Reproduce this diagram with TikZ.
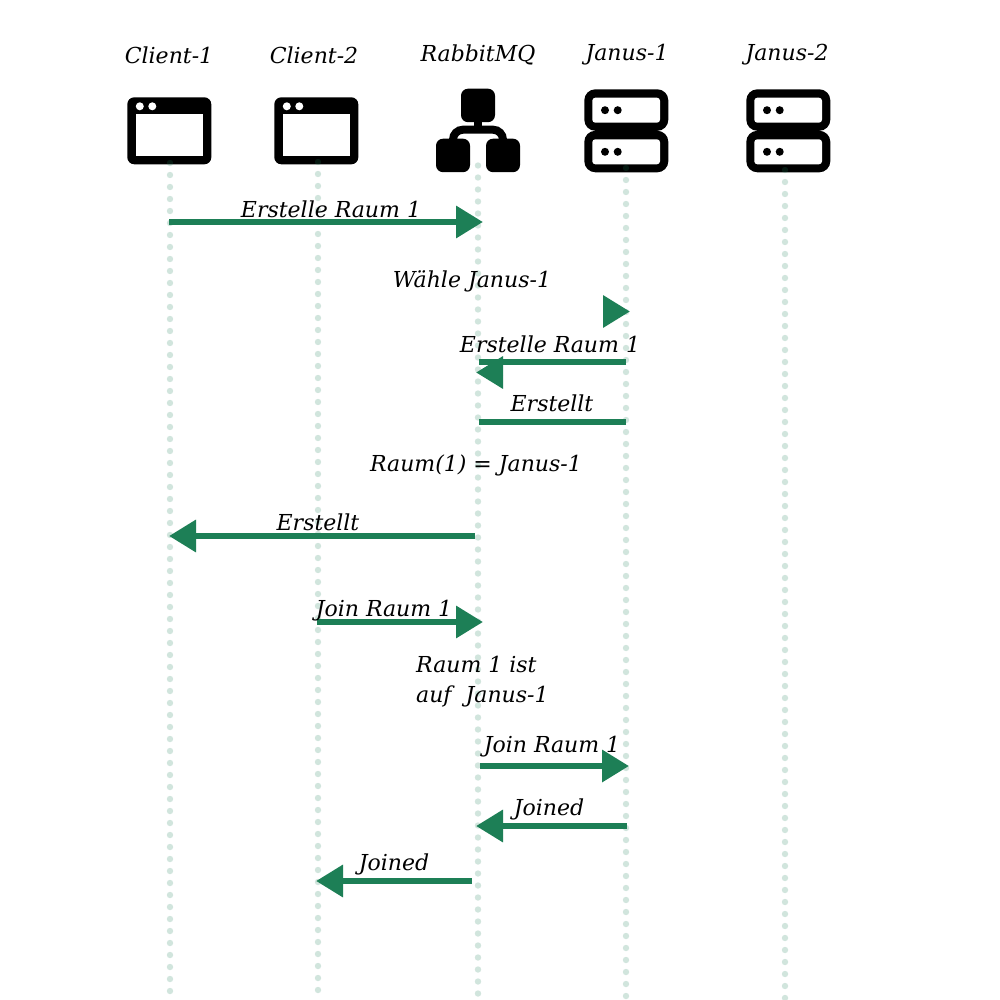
\documentclass[tikz,border=0pt]{standalone}
\usepackage{fontspec}
\setmainfont{DejaVu Serif}
\usetikzlibrary{arrows.meta}
\definecolor{msggreen}{HTML}{1D7F56}

\begin{document}
\begin{tikzpicture}[x=1pt,y=-1pt]
    \tikzstyle{label}=[font=\fontsize{22}{30}\selectfont\itshape,inner sep=0pt,text=black]
    \tikzstyle{msg}=[draw=msggreen,line width=6.4pt,-{Triangle[length=27pt,width=31pt]}]
    \tikzstyle{plain msg}=[draw=msggreen,line width=6.4pt]
    \tikzstyle{lifeline}=[draw=msggreen,draw opacity=0.2,line width=6.4pt,line cap=round,dash pattern=on 0pt off 12pt]
    \tikzset{
      browser/.pic={
        \fill[black,rounded corners=7pt] (0,0) rectangle (84,67);
        \fill[white] (8.3,17) rectangle (75.3,59);
        \fill[white] (12.5,9) circle (4) (25,9) circle (4);
      },
      broker/.pic={
        \fill[black,rounded corners=7pt] (25,0) rectangle (59,33.5);
        \fill[black,rounded corners=7pt] (0,50) rectangle (34,83.5);
        \fill[black,rounded corners=7pt] (50,50) rectangle (84,83.5);
        \draw[black,line width=8pt] (42,30) -- (42,41);
        \draw[black,line width=8pt] (17,52) -- (17,51) arc (180:270:10) -- (57,41) arc (270:360:10) -- (67,52);
      },
      server/.pic={
        \fill[black,rounded corners=11pt] (0,0) rectangle (84,41.5);
        \fill[black,rounded corners=11pt] (0,41.5) rectangle (84,83);
        \fill[white,rounded corners=3pt] (8,8.4) rectangle (75.7,33.4);
        \fill[white,rounded corners=3pt] (8,50) rectangle (75.7,75);
        \fill[black] (20.7,20.9) circle (4) (33.4,20.9) circle (4);
        \fill[black] (20.7,62.5) circle (4) (33.4,62.5) circle (4);
      }
    }
    \useasboundingbox (0,0) rectangle (1000,1000);
    \fill[white] (0,0) rectangle (1000,1000);

    % icons
    \pic at (127.3,97.3) {browser};
    \pic at (274.3,97.3) {browser};
    \pic at (436,88.7) {broker};
    \pic at (584.3,89.3) {server};
    \pic at (746.3,89.3) {server};

    % names
    \node[label] (client1) at (169,55) {Client-1};
    \node[label] (client2) at (314,55) {Client-2};
    \node[label] (rabbit) at (478,55) {RabbitMQ};
    \node[label] (janus1) at (627,55) {Janus-1};
    \node[label] (janus2) at (787,55) {Janus-2};

    % lifelines
    \coordinate (c1top) at (170,163);
    \coordinate (c1end) at (170,994);
    \coordinate (c2top) at (318,162);
    \coordinate (c2end) at (318,994);
    \coordinate (rtop) at (478,165.5);
    \coordinate (rend) at (478,994);
    \coordinate (j1top) at (626,168);
    \coordinate (j1end) at (626,998);
    \coordinate (j2top) at (785,170);
    \coordinate (j2end) at (785,998);
    \draw[lifeline] (c1top) -- (c1end);
    \draw[lifeline] (c2top) -- (c2end);
    \draw[lifeline] (rtop) -- (rend);
    \draw[lifeline] (j1top) -- (j1end);
    \draw[lifeline] (j2top) -- (j2end);

    % messages
    \coordinate (m1a) at (169,222);
    \coordinate (m1b) at (483,222);
    \coordinate (m2a) at (603,311.5);
    \coordinate (m2b) at (630,311.5);
    \coordinate (m3a) at (626,362);
    \coordinate (m3b) at (479,362);
    \coordinate (m3c) at (503,372.5);
    \coordinate (m3d) at (476,372.5);
    \coordinate (m4a) at (626,422);
    \coordinate (m4b) at (479,422);
    \coordinate (m5a) at (475,536);
    \coordinate (m5b) at (169,536);
    \coordinate (m6a) at (317,622);
    \coordinate (m6b) at (483,622);
    \coordinate (m7a) at (480,766);
    \coordinate (m7b) at (629,766);
    \coordinate (m8a) at (627,826);
    \coordinate (m8b) at (476,826);
    \coordinate (m9a) at (472,881);
    \coordinate (m9b) at (316,881);
    \draw[msg] (m1a) -- (m1b);
    \draw[msg] (m2a) -- (m2b);
    \draw[plain msg] (m3a) -- (m3b);
    \draw[msg] (m3c) -- (m3d);
    \draw[plain msg] (m4a) -- (m4b);
    \draw[msg] (m5a) -- (m5b);
    \draw[msg] (m6a) -- (m6b);
    \draw[msg] (m7a) -- (m7b);
    \draw[msg] (m8a) -- (m8b);
    \draw[msg] (m9a) -- (m9b);

    % message labels
    \node[label] (t1) at (331,209) {Erstelle Raum 1};
    \node[label] (t2) at (472,281) {Wähle Janus-1};
    \node[label] (t3) at (550,344) {Erstelle Raum 1};
    \node[label] (t4) at (552,403) {Erstellt};
    \node[label] (t5) at (476,465) {Raum(1) = Janus-1};
    \node[label] (t6) at (318,522) {Erstellt};
    \node[label] (t7) at (384,611) {Join Raum 1};
    \node[label,align=left,anchor=north west] (t8) at (416,656) {Raum 1 ist\\auf\ \ Janus-1};
    \node[label] (t9) at (552,747) {Join Raum 1};
    \node[label] (t10) at (549,809) {Joined};
    \node[label] (t11) at (394,864) {Joined};
\end{tikzpicture}
\end{document}
